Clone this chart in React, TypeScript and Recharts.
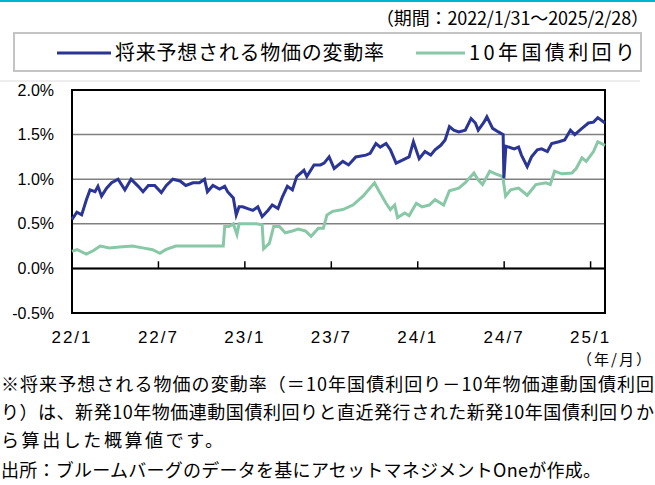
import React from "react";
import {
  LineChart,
  Line,
  XAxis,
  YAxis,
  CartesianGrid,
  ReferenceLine,
  ReferenceArea,
} from "recharts";

// x = months since 2022/1/31 (0) up to 2025/2/28 (37)
const tickMonths = [0, 6, 12, 18, 24, 30, 36];
const tickLabels = ["22/1", "22/7", "23/1", "23/7", "24/1", "24/7", "25/1"];
const yTicks = [-0.5, 0, 0.5, 1, 1.5, 2];

// 将来予想される物価の変動率 (BEI)
const beiMonths = [
  0, 0.34, 0.67, 1.0, 1.25, 1.6, 1.8, 2.05, 2.4, 2.75, 3.2, 3.67, 4.1, 4.6, 4.93, 5.3, 5.74, 6.2,
  6.55, 7.0, 7.5, 7.9, 8.4, 8.85, 9.2, 9.4, 9.78, 10.24, 10.6, 10.8, 11.2, 11.4, 11.6, 11.85, 12.2,
  12.55, 12.9, 13.2, 13.6, 13.9, 14.3, 14.6, 14.95, 15.3, 15.6, 16.1, 16.3, 16.8, 17.25, 17.5,
  17.85, 18.2, 18.8, 19.2, 19.7, 20.4, 20.7, 21.1, 21.4, 21.8, 22.1, 22.5, 22.9, 23.4, 23.7, 24.1,
  24.5, 24.9, 25.2, 25.6, 25.9, 26.2, 26.5, 26.85, 27.3, 27.7, 28.0, 28.2, 28.6, 28.8, 29.2, 29.6,
  29.93, 29.98, 30.12, 30.7, 31.0, 31.2, 31.6, 31.9, 32.3, 32.6, 33.0, 33.3, 33.8, 34.2, 34.6,
  34.9, 35.4, 35.85, 36.2, 36.5, 37,
];
const beiValues = [
  0.55, 0.63, 0.6, 0.77, 0.88, 0.86, 0.92, 0.81, 0.9, 0.96, 1.0, 0.88, 1.0, 0.92, 0.86, 0.93, 0.93,
  0.85, 0.93, 1.0, 0.98, 0.93, 0.96, 0.96, 1.0, 0.86, 0.93, 0.89, 0.92, 0.86, 0.79, 0.6, 0.69,
  0.69, 0.67, 0.65, 0.69, 0.58, 0.65, 0.71, 0.67, 0.8, 0.92, 0.88, 1.03, 1.1, 1.03, 1.16, 1.16,
  1.18, 1.25, 1.12, 1.2, 1.16, 1.25, 1.27, 1.29, 1.4, 1.36, 1.4, 1.33, 1.18, 1.21, 1.25, 1.42,
  1.23, 1.31, 1.27, 1.33, 1.38, 1.44, 1.59, 1.55, 1.53, 1.55, 1.68, 1.63, 1.55, 1.64, 1.7, 1.57,
  1.53, 1.5, 1.01, 1.37, 1.34, 1.36, 1.27, 1.14, 1.25, 1.33, 1.34, 1.31, 1.4, 1.42, 1.44, 1.55,
  1.5, 1.57, 1.63, 1.64, 1.69, 1.63,
];

// 10年国債利回り
const jgbMonths = [
  0, 0.35, 1.0, 1.5, 1.95, 2.6, 3.3, 4.2, 4.9, 5.6, 6.1, 6.5, 7.2, 7.9, 8.85, 9.8, 10.5, 10.6,
  10.9, 11.2, 11.45, 11.6, 12.1, 12.8, 13.2, 13.3, 13.7, 14.0, 14.4, 14.8, 15.3, 15.7, 16.2, 16.6,
  17.1, 17.45, 17.7, 18.1, 18.8, 19.5, 20.2, 21.0, 21.3, 21.8, 22.1, 22.4, 22.6, 23.1, 23.4, 23.9,
  24.3, 24.8, 25.2, 25.8, 26.2, 26.85, 27.3, 27.9, 28.2, 28.5, 29.0, 29.4, 29.9, 30.1, 30.45, 31.0,
  31.6, 32.2, 32.9, 33.2, 33.5, 34.0, 34.7, 35.0, 35.4, 35.7, 36.2, 36.5, 37,
];
const jgbValues = [
  0.19, 0.21, 0.16, 0.2, 0.25, 0.23, 0.24, 0.25, 0.23, 0.21, 0.17, 0.21, 0.25, 0.25, 0.25, 0.25,
  0.25, 0.47, 0.47, 0.5, 0.38, 0.5, 0.5, 0.5, 0.49, 0.22, 0.28, 0.47, 0.47, 0.4, 0.42, 0.44, 0.42,
  0.36, 0.45, 0.45, 0.6, 0.64, 0.66, 0.71, 0.81, 0.96, 0.87, 0.73, 0.66, 0.71, 0.57, 0.62, 0.59,
  0.73, 0.69, 0.71, 0.77, 0.71, 0.87, 0.9, 0.96, 1.07, 0.99, 0.94, 1.09, 1.06, 1.03, 0.81, 0.88,
  0.9, 0.82, 0.94, 0.96, 0.94, 1.09, 1.06, 1.07, 1.12, 1.24, 1.2, 1.31, 1.42, 1.38,
];

const beiData = beiMonths.map((m, i) => ({ m, v: beiValues[i] }));
const jgbData = jgbMonths.map((m, i) => ({ m, v: jgbValues[i] }));

const BLUE = "#2b3595";
const GREEN = "#88c8a6";
const JP = '"Noto Sans CJK JP", "Noto Sans", sans-serif';
const NUM = '"Liberation Sans", Arial, sans-serif';

const notes = [
  { text: "※将来予想される物価の変動率（＝10年国債利回り－10年物価連動国債利回", y: 391, len: 653 },
  { text: "り）は、新発10年物価連動国債利回りと直近発行された新発10年国債利回りか", y: 419, len: 653 },
  { text: "ら算出した概算値です。", y: 447, len: 222 },
  { text: "出所：ブルームバーグのデータを基にアセットマネジメントOneが作成。", y: 477, len: 600 },
];

export default function App() {
  return (
    <div style={{ position: "absolute", left: 0, top: 0, width: 655, height: 485, background: "#fff" }}>
      <div style={{ position: "absolute", left: 0, top: 0, width: 655, height: 2, background: "#00b2cc" }} />
      <div style={{ position: "absolute", left: 0, top: 80, width: 640, height: 2, background: "#eeeeee" }} />
      <div
        style={{
          position: "absolute",
          left: 13,
          top: 32,
          width: 625,
          height: 36,
          border: "2px solid #c4c4c4",
        }}
      />
      <LineChart
        width={655}
        height={485}
        margin={{ top: 90, right: 50, bottom: 142, left: 32 }}
        style={{ position: "absolute", left: 0, top: 0 }}
      >
        <CartesianGrid horizontal vertical={false} stroke="#808080" strokeWidth={1.5} />
        <XAxis
          dataKey="m"
          type="number"
          domain={[0, 37]}
          ticks={tickMonths}
          interval={0}
          tickFormatter={(m: number) => tickLabels[tickMonths.indexOf(m)]}
          axisLine={false}
          tickLine={false}
          tickMargin={12}
          height={30}
          tick={{ fill: "#000", fontSize: 17, fontFamily: NUM, letterSpacing: 2 }}
        />
        <YAxis
          type="number"
          domain={[-0.5, 2]}
          ticks={yTicks}
          interval={0}
          tickFormatter={(v: number) => v.toFixed(1) + "%"}
          axisLine={false}
          tickLine={false}
          tickMargin={12}
          width={40}
          tick={{ fill: "#000", fontSize: 16, fontFamily: NUM }}
        />
        <ReferenceLine y={0} stroke="#000" strokeWidth={2} />
        {tickMonths.slice(1).map((m) => (
          <ReferenceLine
            key={m}
            segment={[
              { x: m, y: 0 },
              { x: m, y: 0.08 },
            ]}
            stroke="#000"
            strokeWidth={1.5}
          />
        ))}
        <Line
          data={jgbData}
          dataKey="v"
          type="linear"
          stroke={GREEN}
          strokeWidth={3}
          dot={false}
          isAnimationActive={false}
        />
        <Line
          data={beiData}
          dataKey="v"
          type="linear"
          stroke={BLUE}
          strokeWidth={3}
          dot={false}
          isAnimationActive={false}
        />
        <ReferenceArea x1={0} x2={37} y1={-0.5} y2={2} fill="none" stroke="#000" strokeWidth={2} />
      </LineChart>
      <svg width={655} height={485} style={{ position: "absolute", left: 0, top: 0, pointerEvents: "none" }}>
        <text x={376} y={25} fontSize={18} fontFamily={JP} textLength={273} lengthAdjust="spacing">
          （期間：2022/1/31～2025/2/28）
        </text>
        <line x1={57} y1={53} x2={111} y2={53} stroke={BLUE} strokeWidth={3} />
        <text x={115} y={60} fontSize={20} fontFamily={JP} textLength={269} lengthAdjust="spacing">
          将来予想される物価の変動率
        </text>
        <line x1={416} y1={53} x2={465} y2={53} stroke={GREEN} strokeWidth={3} />
        <text x={469} y={60} fontSize={20} fontFamily={JP} textLength={166} lengthAdjust="spacing">
          10年国債利回り
        </text>
        <text x={577} y={365} fontSize={15} fontFamily={JP} textLength={74} lengthAdjust="spacing">
          （年/月）
        </text>
        {notes.map((n) => (
          <text key={n.y} x={1} y={n.y} fontSize={18} fontFamily={JP} textLength={n.len} lengthAdjust="spacing">
            {n.text}
          </text>
        ))}
      </svg>
    </div>
  );
}
